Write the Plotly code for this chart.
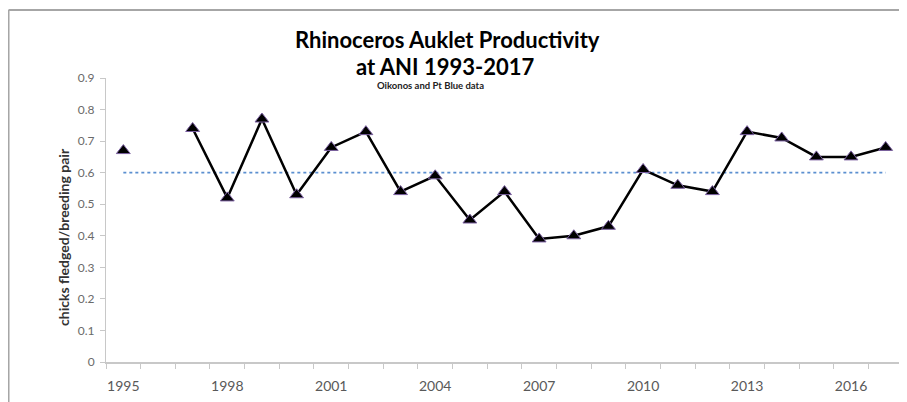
import plotly.graph_objects as go

years = list(range(1995, 2018))
productivity = [0.67, None, 0.74, 0.52, 0.77, 0.53, 0.68, 0.73, 0.54, 0.59, 0.45, 0.54,
                0.39, 0.40, 0.43, 0.61, 0.56, 0.54, 0.73, 0.71, 0.65, 0.65, 0.68]
reference_level = 0.6
x_tick_labels = [1995, 1998, 2001, 2004, 2007, 2010, 2013, 2016]
y_ticks = [0, 0.1, 0.2, 0.3, 0.4, 0.5, 0.6, 0.7, 0.8, 0.9]

font_family = "Lato, 'Open Sans', sans-serif"

fig = go.Figure()
fig.add_trace(go.Scatter(
    x=[years[0], years[-1]], y=[reference_level, reference_level],
    mode="lines", line=dict(color="#5b8fd0", width=1.8, dash="dot"),
    hoverinfo="skip", showlegend=False))
fig.add_trace(go.Scatter(
    x=years, y=productivity, mode="lines+markers", connectgaps=False,
    line=dict(color="black", width=2.5),
    marker=dict(symbol="triangle-up", size=12, color="black",
                line=dict(color="#7a5fa0", width=1)),
    showlegend=False))

fig.update_layout(
    width=899, height=394,
    margin=dict(l=98, r=4, t=70, b=40),
    paper_bgcolor="white", plot_bgcolor="white",
    font=dict(family=font_family, color="#595959"),
    annotations=[
        dict(text="<b>Rhinoceros Auklet Productivity</b>", xref="paper", yref="paper",
             x=0.429, y=1.134, xanchor="center", yanchor="middle", showarrow=False,
             font=dict(size=22, color="black", family=font_family)),
        dict(text="<b>at ANI 1993-2017</b>", xref="paper", yref="paper",
             x=0.425, y=1.039, xanchor="center", yanchor="middle", showarrow=False,
             font=dict(size=22, color="black", family=font_family)),
        dict(text="<b>Oikonos and Pt Blue data</b>", xref="paper", yref="paper",
             x=0.407, y=0.975, xanchor="center", yanchor="middle", showarrow=False,
             font=dict(size=9.5, color="#222222", family=font_family)),
        dict(text="<b>chicks fledged/breeding pair</b>", xref="paper", yref="paper",
             x=-0.054, y=0.44, xanchor="center", yanchor="middle", showarrow=False,
             textangle=-90, font=dict(size=14, color="#333333", family=font_family)),
    ],
    shapes=[
        dict(type="line", xref="paper", yref="paper", x0=-0.1223, x1=-0.1223, y0=-0.2, y1=1.239,
             line=dict(color="#a6a6a6", width=2)),
        dict(type="line", xref="paper", yref="paper", x0=-0.1223, x1=1.02, y0=1.239, y1=1.239,
             line=dict(color="#a6a6a6", width=2)),
    ],
)

fig.update_xaxes(
    range=[1994.5, 2017.5], tickmode="array", tickvals=x_tick_labels,
    ticks="", showline=True, linecolor="#c8c8c8", linewidth=2,
    showgrid=False, zeroline=False, tickfont=dict(size=14, color="#595959"),
    ticklabelstandoff=10,
    minor=dict(tick0=1994.5, dtick=1, ticks="outside", ticklen=5, tickcolor="#c8c8c8",
               tickwidth=1, showgrid=False),
)
fig.update_yaxes(
    range=[0, 0.9], tickmode="array", tickvals=y_ticks,
    ticktext=[("%g" % v) for v in y_ticks],
    ticks="outside", ticklen=5, tickcolor="#c8c8c8",
    showline=True, linecolor="#c8c8c8", linewidth=1,
    showgrid=False, zeroline=False, tickfont=dict(size=12, color="#6a6a6a"),
    ticklabelstandoff=3,
)

fig.write_html("out.html")
